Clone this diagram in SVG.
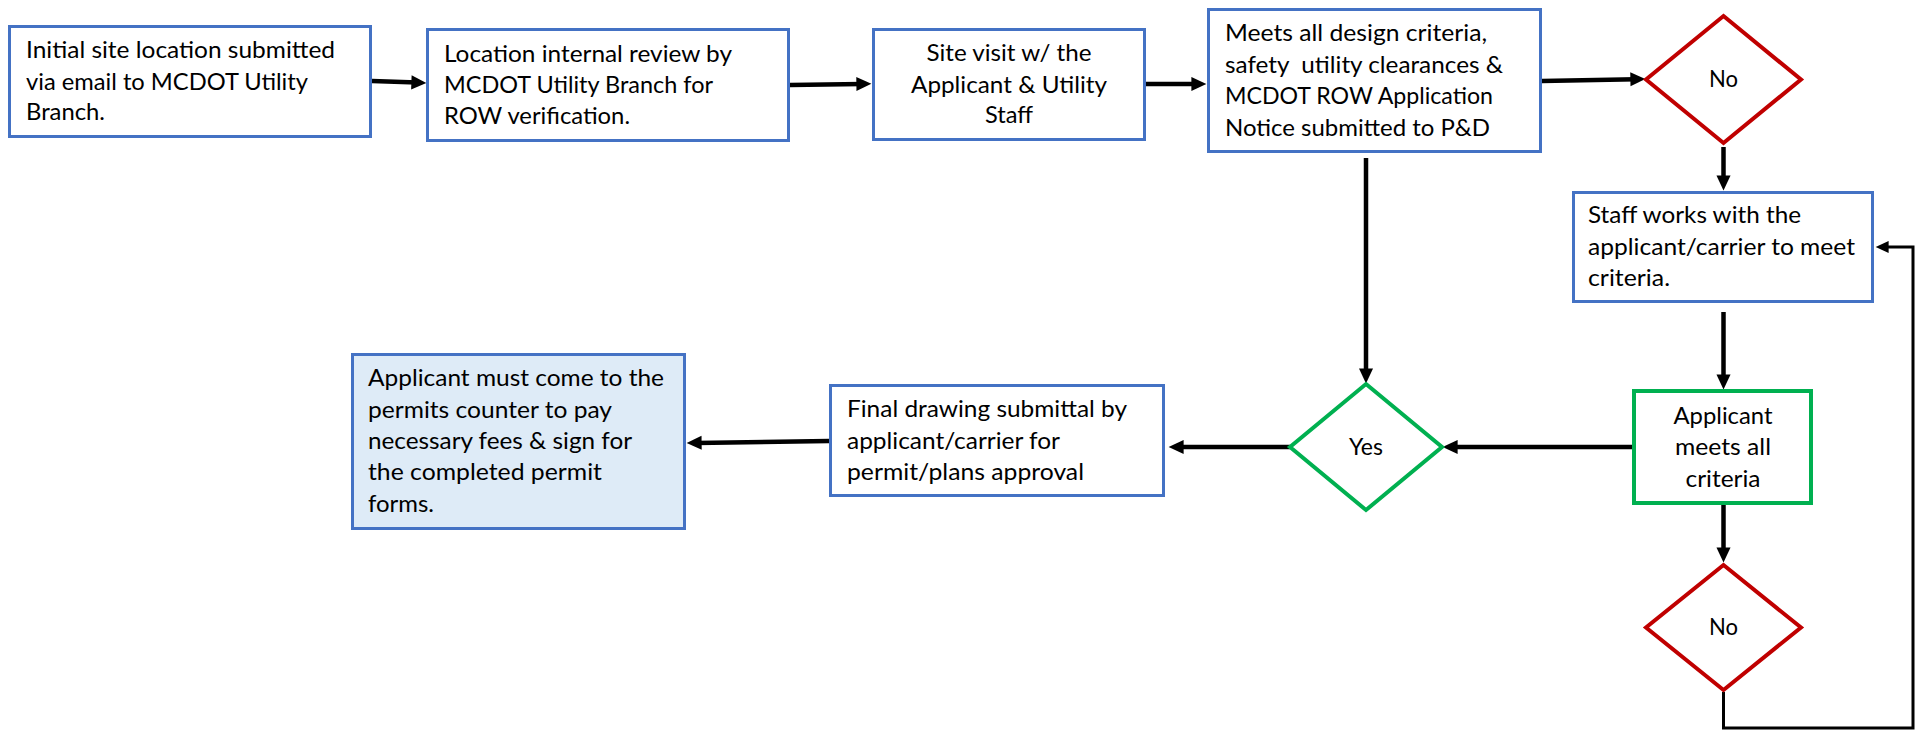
<svg xmlns="http://www.w3.org/2000/svg" width="1917" height="731" viewBox="0 0 1917 731">
<style>
.box{fill:#ffffff;stroke:#4472C4;stroke-width:3}
.fin{fill:#DEEBF7;stroke:#4472C4;stroke-width:3}
.grn{fill:#ffffff;stroke:#00B050;stroke-width:4}
.red{fill:#ffffff;stroke:#C00000;stroke-width:4}
text{font-family:Lato,"Liberation Sans",sans-serif;font-size:23px;fill:#000000}
.c{text-anchor:middle}
.con{fill:none;stroke:#000000;stroke-width:4.5}
.thin{fill:none;stroke:#000000;stroke-width:3}
</style>
<defs>
<marker id="ah" viewBox="0 0 16 16" refX="6" refY="8" markerWidth="16" markerHeight="15" markerUnits="userSpaceOnUse" orient="auto">
<path d="M0,0.5 L16,8 L0,15.5 z" fill="#000000"/>
</marker>
<marker id="ahs" viewBox="0 0 14 14" refX="5" refY="7" markerWidth="14" markerHeight="13" markerUnits="userSpaceOnUse" orient="auto">
<path d="M0,0.5 L14,7 L0,13.5 z" fill="#000000"/>
</marker>
</defs>
<g id="connectors">
<line class="con" x1="372" y1="81" x2="417" y2="82.6" marker-end="url(#ah)"/>
<line class="con" x1="790" y1="85" x2="862" y2="84" marker-end="url(#ah)"/>
<line class="con" x1="1146" y1="84" x2="1197" y2="84" marker-end="url(#ah)"/>
<line class="con" x1="1542" y1="81" x2="1636" y2="79.2" marker-end="url(#ah)"/>
<line class="con" x1="1366" y1="158" x2="1366" y2="374" marker-end="url(#ah)"/>
<line class="con" x1="1723.5" y1="147" x2="1723.5" y2="181" marker-end="url(#ah)"/>
<line class="con" x1="1723.5" y1="312" x2="1723.5" y2="380" marker-end="url(#ah)"/>
<line class="con" x1="1632" y1="447" x2="1452" y2="447" marker-end="url(#ah)"/>
<line class="con" x1="1290" y1="447" x2="1178" y2="447" marker-end="url(#ah)"/>
<line class="con" x1="829" y1="441" x2="696" y2="442.9" marker-end="url(#ah)"/>
<line class="con" x1="1723.5" y1="505" x2="1723.5" y2="553" marker-end="url(#ah)"/>
<polyline class="thin" points="1723.5,692 1723.5,728 1913,728 1913,247 1884,247" marker-end="url(#ahs)"/>
</g>
<g id="n1">
<rect class="box" x="9.5" y="26.5" width="361" height="110"/>
<text x="26" y="58" textLength="309" lengthAdjust="spacingAndGlyphs">Initial site location submitted</text>
<text x="26" y="90" textLength="282" lengthAdjust="spacingAndGlyphs">via email to MCDOT Utility</text>
<text x="26" y="120" textLength="79" lengthAdjust="spacingAndGlyphs">Branch.</text>
</g>
<g id="n2">
<rect class="box" x="427.5" y="29.5" width="361" height="111"/>
<text x="444" y="62" textLength="288" lengthAdjust="spacingAndGlyphs">Location internal review by</text>
<text x="444" y="93" textLength="269" lengthAdjust="spacingAndGlyphs">MCDOT Utility Branch for</text>
<text x="444" y="124" textLength="186" lengthAdjust="spacingAndGlyphs">ROW verification.</text>
</g>
<g id="n3">
<rect class="box" x="873.5" y="29.5" width="271" height="110"/>
<text class="c" x="1009" y="61" textLength="165" lengthAdjust="spacingAndGlyphs">Site visit w/ the</text>
<text class="c" x="1009" y="93" textLength="196" lengthAdjust="spacingAndGlyphs">Applicant &amp; Utility</text>
<text class="c" x="1009" y="123" textLength="48" lengthAdjust="spacingAndGlyphs">Staff</text>
</g>
<g id="n4">
<rect class="box" x="1208.5" y="9.5" width="332" height="142"/>
<text x="1225" y="41" textLength="262" lengthAdjust="spacingAndGlyphs">Meets all design criteria,</text>
<text x="1225" y="73" textLength="278" lengthAdjust="spacingAndGlyphs" xml:space="preserve">safety  utility clearances &amp;</text>
<text x="1225" y="104" textLength="268" lengthAdjust="spacingAndGlyphs">MCDOT ROW Application</text>
<text x="1225" y="136" textLength="265" lengthAdjust="spacingAndGlyphs">Notice submitted to P&amp;D</text>
</g>
<g id="no1">
<polygon class="red" points="1723.5,16 1801,79.5 1723.5,143 1646,79.5"/>
<text class="c" x="1723.5" y="87" textLength="29" lengthAdjust="spacingAndGlyphs">No</text>
</g>
<g id="staff">
<rect class="box" x="1573.5" y="192.5" width="299" height="109"/>
<text x="1588" y="223" textLength="213" lengthAdjust="spacingAndGlyphs">Staff works with the</text>
<text x="1588" y="255" textLength="267" lengthAdjust="spacingAndGlyphs">applicant/carrier to meet</text>
<text x="1588" y="286" textLength="82" lengthAdjust="spacingAndGlyphs">criteria.</text>
</g>
<g id="meets">
<rect class="grn" x="1634" y="391" width="177" height="112"/>
<text class="c" x="1723" y="424" textLength="99" lengthAdjust="spacingAndGlyphs">Applicant</text>
<text class="c" x="1723" y="455" textLength="96" lengthAdjust="spacingAndGlyphs">meets all</text>
<text class="c" x="1723" y="487" textLength="75" lengthAdjust="spacingAndGlyphs">criteria</text>
</g>
<g id="no2">
<polygon class="red" points="1723.5,565 1801,627.5 1723.5,690 1646,627.5"/>
<text class="c" x="1723.5" y="635" textLength="29" lengthAdjust="spacingAndGlyphs">No</text>
</g>
<g id="yes">
<polygon class="grn" points="1366,384 1442,447 1366,510 1290,447"/>
<text class="c" x="1366" y="455" textLength="34" lengthAdjust="spacingAndGlyphs">Yes</text>
</g>
<g id="final">
<rect class="box" x="830.5" y="385.5" width="333" height="110"/>
<text x="847" y="417" textLength="280" lengthAdjust="spacingAndGlyphs">Final drawing submittal by</text>
<text x="847" y="449" textLength="213" lengthAdjust="spacingAndGlyphs">applicant/carrier for</text>
<text x="847" y="480" textLength="237" lengthAdjust="spacingAndGlyphs">permit/plans approval</text>
</g>
<g id="permit">
<rect class="fin" x="352.5" y="354.5" width="332" height="174"/>
<text x="368" y="386" textLength="296" lengthAdjust="spacingAndGlyphs">Applicant must come to the</text>
<text x="368" y="418" textLength="244" lengthAdjust="spacingAndGlyphs">permits counter to pay</text>
<text x="368" y="449" textLength="264" lengthAdjust="spacingAndGlyphs">necessary fees &amp; sign for</text>
<text x="368" y="480" textLength="234" lengthAdjust="spacingAndGlyphs">the completed permit</text>
<text x="368" y="512" textLength="66" lengthAdjust="spacingAndGlyphs">forms.</text>
</g>
</svg>
